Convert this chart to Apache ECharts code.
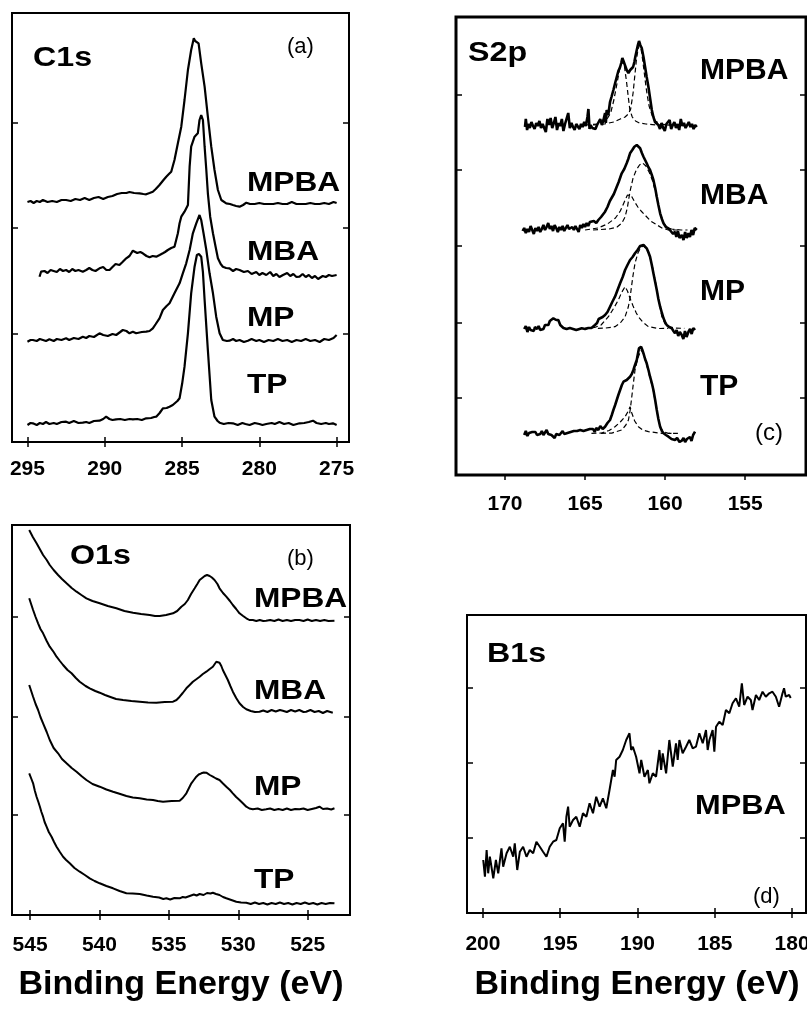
<!DOCTYPE html>
<html>
<head>
<meta charset="utf-8">
<script src="https://cdn.jsdelivr.net/npm/echarts@6/dist/echarts.min.js"></script>
<style>
  html, body { margin: 0; padding: 0; background: #fff; }
  #chart { width: 807px; height: 1011px; }
</style>
</head>
<body>
<div id="chart"></div>
<script>
// tick values (binding energy, eV)
const c1sTicks = [275, 280, 285, 290, 295]
const s2pTicks = [155, 160, 165, 170]
const o1sTicks = [525, 530, 535, 540, 545]
const b1sTicks = [180, 185, 190, 195, 200]
// intensity tick marks (offset counts, arbitrary units)
const c1sYTicks = [108, 214, 319]
const s2pYTicks = [77, 152, 229, 305, 380]
const o1sYTicks = [100, 198, 298]
const b1sYTicks = [75, 150, 225]

// C1s spectra, [eV, intensity]
const c1sMPBA = [[295.0,240],[294.8,241],[294.6,239],[294.4,241],[294.2,240],[294.0,242],[293.7,240],[293.4,241],[293.1,240],[292.8,242],[292.5,242],[292.2,241],[291.9,243],[291.6,242],[291.3,244],[291.0,242],[290.7,244],[290.4,245],[290.1,243],[289.8,245],[289.5,246],[289.2,248],[288.9,249],[288.6,249],[288.4,250],[288.1,249],[287.75,248.7],[287.5,248],[287.32,247.7],[287.1,249],[286.89,250.3],[286.7,253],[286.46,257],[286.2,262],[286.02,265.3],[285.85,268],[285.7,270.3],[285.49,282],[285.27,298.7],[285.05,315.3],[284.84,342],[284.62,372],[284.41,392],[284.24,403.7],[284.15,401],[284.08,402],[283.93,398.7],[283.76,378.7],[283.54,355.3],[283.33,325.3],[283.11,295.3],[282.9,272],[282.68,252],[282.46,242],[282.14,238.7],[281.9,238],[281.71,237],[281.5,236],[281.28,235.3],[281.05,237],[280.84,239.3],[280.6,238],[280.3,238],[280.0,239],[279.7,238],[279.4,238],[279.1,238],[278.8,239],[278.5,238],[278.2,238],[277.9,240],[277.6,238],[277.3,238],[277.0,238],[276.7,239],[276.4,238],[276.1,238],[275.8,239],[275.5,238],[275.2,240],[275.0,239]]
const c1sMBA = [[294.22,165.3],[294.12,170.3],[293.9,171],[293.7,169],[293.5,172],[293.36,171.3],[293.1,170],[292.9,173],[292.7,171],[292.5,172],[292.3,170],[292.1,173],[291.9,171],[291.7,172],[291.42,170.3],[291.2,172],[291.0,174],[290.8,172],[290.6,171],[290.34,173.7],[290.1,175],[289.9,172],[289.69,172],[289.5,175],[289.3,178],[289.05,177],[288.85,180],[288.61,183.7],[288.4,186],[288.18,191.3],[288.07,192],[287.9,189],[287.7,190],[287.54,188.7],[287.3,186],[287.1,184.7],[286.9,186],[286.67,185.3],[286.45,187],[286.24,188.7],[286.1,190],[285.92,192],[285.7,194],[285.49,195.3],[285.27,208.7],[285.16,218.7],[285.05,225.3],[284.84,230.3],[284.62,237],[284.51,275.3],[284.41,295.3],[284.19,305.3],[283.98,308.7],[283.87,322],[283.76,327],[283.65,322],[283.54,295.3],[283.43,272],[283.33,248.7],[283.18,225.3],[283.0,208.7],[282.83,195.3],[282.68,183.7],[282.5,178],[282.36,175.3],[282.15,174],[281.93,173.7],[281.7,171],[281.5,173],[281.28,172],[281.0,170],[280.74,171],[280.5,168],[280.2,170],[280.0,167],[279.8,169],[279.55,167],[279.3,170],[279.1,166],[278.9,168],[278.7,165],[278.47,167],[278.2,169],[278.0,166],[277.8,168],[277.6,165],[277.4,165.3],[277.2,168],[277.0,165],[276.8,167],[276.6,164],[276.4,166],[276.2,163],[276.1,162],[275.9,166],[275.7,165],[275.5,167],[275.3,166],[275.0,167]]
const c1sMP = [[295.0,100.3],[294.8,102],[294.65,102],[294.4,101],[294.2,103],[294.0,102],[293.8,101],[293.58,102.7],[293.3,101],[293.1,103],[292.8,102],[292.5,103.7],[292.3,102],[292.0,104],[291.7,103],[291.42,105.3],[291.2,104],[291.0,106],[290.7,105],[290.34,108.7],[290.1,107],[289.8,106],[289.5,108],[289.26,107],[289.0,110],[288.83,112],[288.6,111],[288.4,108.7],[288.18,110.3],[287.97,108.7],[287.6,110],[287.32,110.3],[287.1,111],[286.89,113.7],[286.7,118],[286.46,123.7],[286.24,132],[286.0,136],[285.81,138.7],[285.49,148.7],[285.16,158.7],[284.95,168.7],[284.73,178.7],[284.51,192],[284.3,208.7],[284.08,218.7],[283.87,227],[283.76,222],[283.61,208.7],[283.43,192],[283.22,168.7],[283.0,148.7],[282.79,125.3],[282.57,108.7],[282.36,102],[282.1,101],[281.93,101.3],[281.7,103],[281.5,101],[281.28,102],[281.0,100],[280.74,101.3],[280.5,103],[280.2,101],[280.0,102],[279.7,100],[279.4,102],[279.1,101],[278.8,103],[278.5,101],[278.2,102],[277.9,100],[277.6,102],[277.3,101],[277.0,103],[276.7,101],[276.4,102],[276.1,100],[275.8,103],[275.5,102],[275.2,104],[275.0,107]]
const c1sTP = [[295.0,17],[294.8,19],[294.65,18.7],[294.4,17],[294.2,19],[294.0,18],[293.8,20],[293.58,18],[293.3,19],[293.1,18],[292.8,20],[292.5,20.3],[292.3,19],[292.0,21],[291.7,19],[291.42,19.3],[291.2,20],[291.0,19],[290.7,21],[290.34,21.3],[290.1,23],[289.91,25.3],[289.7,23],[289.5,22],[289.26,22.7],[289.0,23],[288.7,22],[288.4,23],[288.18,22.7],[287.9,23],[287.6,22],[287.32,23.7],[287.0,24],[286.8,25],[286.67,25.3],[286.45,29],[286.24,33.7],[286.0,34],[285.81,35.3],[285.6,37],[285.49,38.7],[285.3,41],[285.16,43.7],[284.99,58.7],[284.84,75.3],[284.62,108.7],[284.41,148.7],[284.19,175.3],[284.04,187],[283.91,188],[283.76,185.3],[283.65,170],[283.54,142],[283.33,92],[283.11,42],[282.9,25.3],[282.7,21],[282.57,19.3],[282.3,18],[282.0,19],[281.71,18.7],[281.4,17],[281.1,19],[280.9,18],[280.63,17],[280.3,19],[280.0,18],[279.8,17],[279.55,18],[279.2,19],[279.0,18],[278.7,20],[278.4,18],[278.1,19],[277.8,17],[277.4,18.7],[277.1,19],[276.8,20],[276.53,21.3],[276.3,19],[276.0,18],[275.7,19],[275.5,18],[275.24,18.7],[275.0,17]]

// S2p spectra and fitted components
const s2pMPBA = [[168.75,348],[168.7,356],[168.62,345],[168.55,351],[168.45,347],[168.35,353],[168.25,349],[168.15,346],[168.05,352],[167.95,349],[167.85,354],[167.75,347],[167.65,351],[167.55,349],[167.45,343],[167.35,356],[167.25,350],[167.15,357],[167.05,347],[166.95,352],[166.85,358],[166.75,345],[166.65,352],[166.55,349],[166.45,356],[166.35,344],[166.25,351],[166.15,349],[166.05,362],[165.95,347],[165.85,352],[165.75,348],[165.65,345],[165.55,351],[165.45,349],[165.35,346],[165.25,351],[165.15,348],[165.05,353],[164.95,349],[164.85,358],[164.79,366],[164.72,346],[164.65,350],[164.55,347],[164.45,349],[164.35,346],[164.25,350],[164.15,349],[164.05,356],[163.95,350],[163.85,355],[163.75,362],[163.7,352],[163.65,365],[163.55,360],[163.44,373],[163.35,378],[163.23,385],[163.12,392],[163.02,398],[162.92,404],[162.81,408],[162.74,412],[162.67,417],[162.6,414],[162.5,412],[162.4,405],[162.29,402],[162.18,405],[162.08,403],[162.0,408],[161.92,413],[161.85,419],[161.77,425],[161.7,430],[161.63,434],[161.55,430],[161.46,427],[161.35,418],[161.25,408],[161.15,398],[161.04,388],[160.93,376],[160.83,365],[160.73,358],[160.63,353],[160.52,351],[160.42,350],[160.32,346],[160.22,352],[160.12,347],[160.02,344],[159.92,351],[159.82,349],[159.72,355],[159.62,346],[159.52,350],[159.42,353],[159.32,347],[159.22,351],[159.12,345],[159.02,356],[158.92,349],[158.82,352],[158.72,347],[158.62,350],[158.52,353],[158.42,348],[158.32,351],[158.22,346],[158.12,350],[158.02,348]]
const s2pMPBAfitA = [[164.5,350],[163.8,351],[163.2,353],[162.8,356],[162.5,358],[162.3,361],[162.15,366],[162.0,382],[161.9,398],[161.8,414],[161.7,425],[161.6,430],[161.5,426],[161.4,415],[161.3,402],[161.2,389],[161.1,378],[161.0,369],[160.8,359],[160.6,354],[160.3,351],[159.8,350],[159.0,350]]
const s2pMPBAfitB = [[165.0,350],[164.2,351],[163.7,354],[163.4,362],[163.2,375],[163.0,392],[162.85,405],[162.7,413],[162.55,410],[162.4,392],[162.3,378],[162.2,365],[162.05,358],[161.85,354],[161.6,352],[161.2,351],[160.5,350],[159.5,350]]
const s2pMBA = [[168.9,244],[168.8,247],[168.7,242],[168.6,246],[168.5,243],[168.4,249],[168.3,245],[168.2,241],[168.1,247],[168.0,244],[167.9,248],[167.8,243],[167.7,246],[167.6,250],[167.5,245],[167.4,248],[167.3,252],[167.2,246],[167.1,249],[167.0,244],[166.9,250],[166.8,247],[166.7,243],[166.6,248],[166.5,245],[166.4,249],[166.3,244],[166.2,247],[166.1,250],[166.0,246],[165.9,244],[165.8,248],[165.7,245],[165.6,249],[165.5,246],[165.4,243],[165.3,250],[165.2,247],[165.1,251],[165.0,248],[164.9,252],[164.8,249],[164.7,253],[164.58,251.7],[164.45,254],[164.3,252],[164.17,255],[164.0,258],[163.9,257],[163.75,263.3],[163.6,268],[163.45,274],[163.33,275],[163.2,281],[163.02,288.3],[162.9,293],[162.71,301.7],[162.55,306],[162.4,311.7],[162.3,316],[162.19,321.7],[162.05,325],[161.92,328.3],[161.77,330],[161.65,328],[161.56,326.7],[161.45,322],[161.35,318.3],[161.25,315],[161.15,311.7],[161.05,308],[160.94,305],[160.83,300],[160.73,295],[160.62,287],[160.52,278.3],[160.42,270],[160.31,261.7],[160.2,256],[160.1,251.7],[159.95,248],[159.79,246.7],[159.65,244],[159.5,241],[159.38,243.3],[159.3,238],[159.2,244],[159.1,237],[158.96,240],[158.85,235],[158.75,243],[158.65,237],[158.54,241.7],[158.45,238],[158.35,245],[158.25,240],[158.15,247],[158.02,245]]
const s2pMBAfitA = [[164.5,245],[163.5,246],[163.0,248],[162.7,252],[162.5,258],[162.35,268],[162.2,283],[162.0,297],[161.8,305],[161.6,310],[161.4,312],[161.2,309],[161.0,303],[160.8,295],[160.6,283],[160.45,272],[160.3,262],[160.1,252],[159.9,248],[159.6,246],[159.0,245],[158.6,245]]
const s2pMBAfitB = [[165.0,245],[164.2,247],[163.6,251],[163.1,257],[162.8,264],[162.55,273],[162.35,280],[162.25,282],[162.1,279],[161.9,273],[161.7,268],[161.5,264],[161.2,259],[160.9,254],[160.6,251],[160.2,247],[159.8,245],[159.2,245]]
const s2pMP = [[168.8,146],[168.7,149],[168.6,143],[168.5,148],[168.4,145],[168.3,147],[168.2,144],[168.13,148],[168.0,146],[167.9,149],[167.8,145],[167.7,147],[167.6,146],[167.5,150],[167.4,148],[167.29,150],[167.2,154],[167.1,155],[166.98,156.7],[166.9,157],[166.8,155],[166.67,155],[166.55,150],[166.46,148.3],[166.35,147],[166.25,149],[166.15,146],[166.05,148],[165.95,147],[165.85,149],[165.75,146],[165.65,148],[165.55,145],[165.45,147],[165.35,146],[165.21,146.7],[165.1,148],[165.0,146],[164.9,148],[164.8,147],[164.7,149],[164.6,147],[164.5,148],[164.38,150],[164.25,152],[164.15,156],[164.06,156.7],[163.9,158],[163.75,160],[163.6,163],[163.44,168.3],[163.3,173],[163.13,178.3],[162.97,185],[162.81,191.7],[162.65,198],[162.5,205],[162.35,210],[162.19,215],[162.03,218],[161.88,221.7],[161.72,225],[161.56,229],[161.45,230],[161.35,230],[161.25,228],[161.15,226.7],[161.05,223],[160.94,218.3],[160.83,210],[160.73,201.7],[160.62,193],[160.52,185],[160.42,176],[160.31,168.3],[160.2,162],[160.1,156.7],[160.0,153],[159.9,150],[159.75,148],[159.58,146.7],[159.48,144],[159.38,141.7],[159.28,145],[159.18,139],[159.08,143],[158.96,140],[158.86,136],[158.76,144],[158.66,138],[158.54,143.3],[158.44,146],[158.34,141],[158.24,147],[158.13,145]]
const s2pMPfitA = [[164.2,146.7],[163.75,146.9],[163.13,148.3],[162.8,152],[162.5,158.3],[162.3,168],[162.19,176.7],[162.1,188.3],[162.0,200],[161.88,211.7],[161.7,222],[161.5,228],[161.35,229],[161.2,227],[161.0,221],[160.8,209],[160.6,193],[160.4,175],[160.2,158.3],[160.0,151],[159.79,148.3],[159.38,146.9],[158.8,146.7]]
const s2pMPfitB = [[165.0,146.7],[164.4,147.5],[164.0,150],[163.54,158.3],[163.2,167],[162.92,175],[162.7,183],[162.5,188.3],[162.35,184],[162.19,176.7],[162.0,169],[161.8,162],[161.67,158.3],[161.4,153],[161.04,148.3],[160.42,146.5],[159.8,146.7]]
const s2pTP = [[168.8,40],[168.7,44],[168.6,39],[168.5,42],[168.4,40],[168.3,43],[168.2,41],[168.1,43],[168.0,40],[167.9,42],[167.8,41],[167.7,44],[167.6,40],[167.5,42],[167.4,45],[167.3,41],[167.2,43],[167.1,40],[167.0,42],[166.9,37],[166.8,41],[166.7,43],[166.6,40],[166.5,42],[166.4,44],[166.3,41],[166.2,43],[166.1,42],[166.0,40],[165.9,43],[165.8,41],[165.7,44],[165.6,42],[165.5,44],[165.4,42],[165.3,45],[165.2,43],[165.1,44],[165.0,42],[164.9,45],[164.8,43],[164.7,46],[164.6,44],[164.5,46],[164.4,43],[164.3,47],[164.17,45],[164.05,49],[163.9,46],[163.75,48.3],[163.6,52],[163.44,55],[163.33,60],[163.23,65],[163.12,70],[163.02,75],[162.92,80],[162.81,85],[162.7,90],[162.6,93.3],[162.5,94],[162.4,95],[162.3,96],[162.19,98.3],[162.08,101],[161.98,105],[161.88,110],[161.77,115],[161.7,121],[161.63,126.7],[161.5,128.3],[161.42,125],[161.35,121.7],[161.25,116],[161.15,111.7],[161.04,105],[160.94,98.3],[160.83,92],[160.73,85],[160.62,75],[160.52,65],[160.42,56],[160.31,48.3],[160.2,44],[160.1,41.7],[159.95,40],[159.79,38.3],[159.6,36],[159.5,38],[159.38,35],[159.25,37],[159.1,33],[158.96,34.3],[158.85,37],[158.75,33],[158.64,36],[158.54,35.7],[158.45,38],[158.35,34],[158.25,40],[158.13,43.3]]
const s2pTPfitA = [[164.0,41.7],[163.33,41.9],[162.71,45],[162.45,50],[162.29,55],[162.18,65],[162.08,78.3],[161.98,92],[161.88,105],[161.7,117],[161.5,125],[161.35,121],[161.15,110],[160.94,97],[160.73,84],[160.52,64],[160.31,48],[160.1,43],[159.79,41.7],[159.2,41.7]]
const s2pTPfitB = [[164.6,41.7],[163.96,42],[163.5,44.5],[163.13,48.3],[162.8,53],[162.5,58.3],[162.3,64],[162.19,68.3],[162.08,62],[161.9,54],[161.67,48.3],[161.4,45],[161.04,43.3],[160.2,41.7],[159.6,41.7]]

// O1s spectra
const o1sMPBA = [[545.06,385],[544.8,378],[544.53,371.7],[544.3,366],[544.06,360],[543.8,355],[543.58,350],[543.3,345],[542.98,340],[542.7,336],[542.37,331.7],[542.0,327],[541.65,323.3],[541.3,320],[540.94,316.7],[540.5,314],[539.98,311.7],[539.4,309],[538.78,306.7],[538.2,304],[537.58,302.3],[537.0,301],[536.38,300],[536.0,299],[535.66,299],[535.2,300],[534.7,301.7],[534.4,304],[534.1,308.3],[533.85,311],[533.63,315],[533.4,321],[533.14,326.7],[532.95,331],[532.78,335],[532.6,337],[532.42,339],[532.25,340],[532.06,339],[531.9,337.5],[531.71,335],[531.5,331],[531.35,326.7],[531.1,322],[530.86,318.3],[530.6,314],[530.39,310],[530.15,306],[529.91,301.7],[529.65,299],[529.42,296.7],[529.2,295],[528.95,295],[528.7,294],[528.45,295],[528.2,294],[527.99,294.3],[527.7,295],[527.4,294],[527.1,295.5],[526.8,294],[526.5,295],[526.2,294],[525.9,295],[525.59,295],[525.3,294],[525.0,295.5],[524.7,294],[524.4,295],[524.1,294],[523.8,295],[523.5,294],[523.07,294.3]]
const o1sMBA = [[545.06,316.7],[544.78,305],[544.6,298],[544.42,291.7],[544.25,286],[544.06,281.7],[543.8,274],[543.58,268.3],[543.3,263],[543.09,258.3],[542.85,254],[542.62,250],[542.3,245],[542.01,241.7],[541.7,237],[541.42,233.3],[541.0,229],[540.7,226.7],[540.3,224],[539.98,222.3],[539.6,220],[539.26,218.3],[538.8,216],[538.3,215],[537.7,214],[537.1,213.3],[536.5,212.5],[535.9,212.3],[535.3,213],[534.7,213.3],[534.45,215],[534.22,218.3],[534.0,222],[533.74,226.7],[533.5,230],[533.27,233.3],[533.0,236],[532.78,238.3],[532.55,241],[532.3,243.3],[532.05,246],[531.83,248.3],[531.7,250],[531.58,253.3],[531.45,253],[531.35,252.3],[531.22,249],[531.11,245],[530.93,240],[530.75,235],[530.57,229],[530.39,223.3],[530.15,217],[529.91,211.7],[529.65,208],[529.42,205.7],[529.1,204],[528.8,203],[528.47,203.3],[528.2,204.5],[527.9,203],[527.6,205],[527.3,203.5],[527.0,205],[526.79,204.3],[526.5,203],[526.2,205],[525.9,203.5],[525.6,205],[525.3,203],[525.11,203.3],[524.8,205],[524.5,203],[524.2,204],[523.9,202],[523.6,204],[523.19,202.3]]
const o1sMP = [[545.06,230],[544.78,218.3],[544.6,211],[544.42,205],[544.25,198],[544.06,191.7],[543.8,183],[543.58,175],[543.3,167],[542.98,161.7],[542.7,156],[542.37,151.7],[542.0,147],[541.65,143.3],[541.3,139],[540.94,135],[540.5,131],[539.98,128.3],[539.5,125.5],[539.02,123.3],[538.5,121],[538.06,119],[537.6,117.5],[537.1,116.7],[536.6,115.5],[536.14,115],[535.8,114],[535.42,113.3],[534.8,114],[534.22,114.3],[534.0,117],[533.74,121.7],[533.55,127],[533.38,131.7],[533.2,135],[533.02,138.3],[532.85,140.5],[532.66,141.7],[532.48,142.5],[532.3,142.3],[532.05,140],[531.83,138.3],[531.6,136.5],[531.35,135],[531.1,131.5],[530.86,128.3],[530.6,125],[530.39,121.7],[530.15,118],[529.91,115],[529.65,111.5],[529.42,108.3],[529.2,106.5],[528.95,105.7],[528.6,106.5],[528.3,105],[527.99,105.7],[527.7,106.5],[527.4,105],[527.1,106],[526.8,105],[526.5,106.5],[526.2,105],[525.9,106],[525.59,105.7],[525.3,106.5],[525.0,105],[524.7,106],[524.4,107],[524.15,108.3],[523.9,106],[523.6,106.5],[523.3,105.5],[523.07,106.7]]
const o1sTP = [[545.06,141.7],[544.9,136],[544.78,131.7],[544.65,124],[544.53,118.3],[544.4,113],[544.29,108.3],[544.18,103],[544.06,98.3],[543.95,93],[543.81,88.3],[543.65,83],[543.45,78.3],[543.27,73],[543.09,68.3],[542.85,63],[542.62,58.3],[542.4,55],[542.14,51.7],[541.8,47],[541.42,43.3],[541.05,40],[540.7,36.7],[540.35,34],[539.98,31.7],[539.5,29],[539.02,26.7],[538.55,24],[538.06,21.7],[537.6,21.5],[537.1,21],[536.6,19.5],[536.14,18.3],[535.7,17.5],[535.4,16],[535.18,16.7],[534.9,15.5],[534.6,17],[534.22,16.7],[534.0,18],[533.8,17.5],[533.5,19],[533.2,20.5],[533.0,19.5],[532.78,21],[532.5,20],[532.25,22],[532.0,21.5],[531.83,22.3],[531.6,21],[531.35,20],[531.1,18],[530.86,16.7],[530.5,15],[530.14,13.3],[529.8,12.5],[529.42,12.3],[529.1,11],[528.8,12.5],[528.5,11],[528.2,12],[527.9,10.5],[527.6,12],[527.3,11],[527.0,12.5],[526.7,11],[526.4,12],[526.1,10.5],[525.8,12],[525.5,11],[525.2,12.5],[524.9,11],[524.6,12],[524.3,10.5],[524.0,12],[523.7,11],[523.4,12],[523.07,11.7]]

// B1s spectrum
const b1sMPBA = [[199.98,53],[199.87,36.3],[199.76,63],[199.66,39.7],[199.55,56.3],[199.33,34.7],[199.16,53],[199.01,39.7],[198.8,64.7],[198.69,46.3],[198.47,59.7],[198.26,66.3],[198.04,56.3],[197.94,69.7],[197.78,43],[197.61,61.3],[197.4,66.3],[197.18,56.3],[196.97,63],[196.75,59.7],[196.54,71.3],[196.32,66.3],[196.11,61.3],[195.89,56.3],[195.68,66.3],[195.46,71.3],[195.25,73],[195.03,84.7],[194.82,89.7],[194.71,71.3],[194.6,96.3],[194.49,106.3],[194.39,86.3],[194.17,93],[193.96,96.3],[193.74,86.3],[193.53,99.7],[193.31,96.3],[193.1,109.7],[192.88,99.7],[192.67,116.3],[192.45,106.3],[192.24,114.7],[192.02,104.7],[191.81,123],[191.59,143],[191.48,136.3],[191.38,153],[191.16,156.3],[190.95,163],[190.73,173],[190.52,179.7],[190.41,163],[190.3,166.3],[190.09,156.3],[189.87,139.7],[189.76,153],[189.55,136.3],[189.33,143],[189.23,129.7],[189.01,139.7],[188.8,136.3],[188.58,163],[188.47,143],[188.37,159.7],[188.15,139.7],[187.94,173],[187.72,146.3],[187.51,169.7],[187.4,153],[187.29,173],[187.08,159.7],[186.86,166.3],[186.65,173],[186.43,164.7],[186.22,166.3],[186.0,179.7],[185.78,169.7],[185.57,183],[185.46,163],[185.35,173],[185.14,183],[185.03,161.3],[184.92,186.3],[184.71,191.3],[184.49,188],[184.28,203],[184.06,199.7],[183.85,209.7],[183.63,214.7],[183.42,206.3],[183.25,229.7],[183.1,208],[182.88,216.3],[182.67,213],[182.56,203],[182.34,218],[182.13,213],[181.91,221.3],[181.7,216.3],[181.48,219.7],[181.27,221.3],[181.05,216.3],[180.84,206.3],[180.62,219.7],[180.52,224.7],[180.41,216.3],[180.19,218],[180.09,215]]

const FONT = "'Liberation Sans', Arial, Helvetica, sans-serif"

// panel layout: grid box in px, energy range, ticks
const panels = [
  { left: 12, top: 13, width: 337, height: 429, xMin: 274.2, xMax: 296.0, xTicks: c1sTicks, yTicks: c1sYTicks, margin: 17, border: 2, bottomTicks: true },
  { left: 456, top: 17, width: 350, height: 458, xMin: 151.2, xMax: 173.06, xTicks: s2pTicks, yTicks: s2pYTicks, margin: 19, border: 3, bottomTicks: false },
  { left: 12, top: 525, width: 338, height: 390, xMin: 521.95, xMax: 546.3, xTicks: o1sTicks, yTicks: o1sYTicks, margin: 20, border: 2, bottomTicks: true },
  { left: 467, top: 615, width: 339, height: 298, xMin: 179.1, xMax: 201.03, xTicks: b1sTicks, yTicks: b1sYTicks, margin: 21, border: 2, bottomTicks: true }
]

const tickStyle = { color: '#000', width: 1.5 }

// outerBoundsMode 'none' keeps v6 from shrinking a grid whose labels touch the edge
const grid = panels.map(p => ({
  left: p.left, top: p.top, width: p.width, height: p.height,
  containLabel: false, outerBoundsMode: 'none',
  show: true, borderColor: '#000', borderWidth: p.border, backgroundColor: 'transparent'
}))

const xAxis = []
const yAxis = []
panels.forEach((p, i) => {
  xAxis.push({
    gridIndex: i, type: 'value', position: 'bottom', inverse: true, min: p.xMin, max: p.xMax,
    axisLine: { show: false },
    axisTick: { show: p.bottomTicks, inside: true, length: 5, customValues: p.xTicks, lineStyle: tickStyle },
    axisLabel: { customValues: p.xTicks, color: '#000', fontWeight: 'bold', fontSize: 21, fontFamily: FONT, margin: p.margin, hideOverlap: false },
    splitLine: { show: false }
  })
  xAxis.push({
    gridIndex: i, type: 'value', position: 'top', inverse: true, min: p.xMin, max: p.xMax,
    axisLine: { show: false },
    axisTick: { show: true, inside: true, length: 5, customValues: p.xTicks, lineStyle: tickStyle },
    axisLabel: { show: false },
    splitLine: { show: false }
  })
  ;['left', 'right'].forEach(pos => {
    yAxis.push({
      gridIndex: i, type: 'value', position: pos, min: 0, max: p.height,
      axisLine: { show: false },
      axisTick: { show: true, inside: true, length: 6, customValues: p.yTicks, lineStyle: tickStyle },
      axisLabel: { show: false },
      splitLine: { show: false }
    })
  })
})

function spectrum(data, panel, width, dashed) {
  return {
    type: 'line', data: data, xAxisIndex: panel * 2, yAxisIndex: panel * 2,
    symbol: 'none', silent: true, animation: false,
    lineStyle: { color: '#000', width: width, type: dashed ? [5, 3] : 'solid' }
  }
}

const series = [
  spectrum(c1sMPBA, 0, 2.2), spectrum(c1sMBA, 0, 2.2), spectrum(c1sMP, 0, 2.2), spectrum(c1sTP, 0, 2.2),
  spectrum(s2pMPBAfitA, 1, 1.2, true), spectrum(s2pMPBAfitB, 1, 1.2, true),
  spectrum(s2pMBAfitA, 1, 1.2, true), spectrum(s2pMBAfitB, 1, 1.2, true),
  spectrum(s2pMPfitA, 1, 1.2, true), spectrum(s2pMPfitB, 1, 1.2, true),
  spectrum(s2pTPfitA, 1, 1.2, true), spectrum(s2pTPfitB, 1, 1.2, true),
  spectrum(s2pMPBA, 1, 2.6), spectrum(s2pMBA, 1, 2.6), spectrum(s2pMP, 1, 2.6), spectrum(s2pTP, 1, 2.6),
  spectrum(o1sMPBA, 2, 2), spectrum(o1sMBA, 2, 2), spectrum(o1sMP, 2, 2), spectrum(o1sTP, 2, 2),
  spectrum(b1sMPBA, 3, 2)
]

// text annotations
function label(text, x, y, size, bold, sx) {
  return {
    type: 'text', x: x, y: y, scaleX: sx || 1, silent: true,
    style: {
      text: text, fill: '#000', fontSize: size, fontWeight: bold ? 'bold' : 'normal', fontFamily: FONT,
      textAlign: 'left', align: 'left', textVerticalAlign: 'middle', verticalAlign: 'middle'
    }
  }
}

const graphic = [
  label('C1s', 33, 58, 28, true, 1.15),
  label('(a)', 287, 47, 22, false),
  label('MPBA', 247, 183, 28, true, 1.13),
  label('MBA', 247, 252, 28, true, 1.13),
  label('MP', 247, 318, 28, true, 1.13),
  label('TP', 247, 385, 28, true, 1.13),

  label('S2p', 468, 53, 28, true, 1.15),
  label('MPBA', 700, 71, 30, true),
  label('MBA', 700, 196, 30, true),
  label('MP', 700, 292, 30, true),
  label('TP', 700, 387, 30, true),
  label('(c)', 755, 433, 24, false),

  label('O1s', 70, 556, 28, true, 1.15),
  label('(b)', 287, 559, 22, false),
  label('MPBA', 254, 599, 28, true, 1.13),
  label('MBA', 254, 691, 28, true, 1.13),
  label('MP', 254, 787, 28, true, 1.13),
  label('TP', 254, 880, 28, true, 1.13),

  label('B1s', 487, 654, 28, true, 1.15),
  label('MPBA', 695, 806, 28, true, 1.1),
  label('(d)', 753, 897, 22, false),

  {
    type: 'text', x: 181, y: 985, silent: true,
    style: { text: 'Binding Energy (eV)', fill: '#000', fontSize: 34, fontWeight: 'bold', fontFamily: FONT, textAlign: 'center', align: 'center', textVerticalAlign: 'middle', verticalAlign: 'middle' }
  },
  {
    type: 'text', x: 637, y: 985, silent: true,
    style: { text: 'Binding Energy (eV)', fill: '#000', fontSize: 34, fontWeight: 'bold', fontFamily: FONT, textAlign: 'center', align: 'center', textVerticalAlign: 'middle', verticalAlign: 'middle' }
  }
]

const chart = echarts.init(document.getElementById('chart'), null, { renderer: 'canvas' })
chart.setOption({
  animation: false,
  backgroundColor: '#fff',
  grid: grid,
  xAxis: xAxis,
  yAxis: yAxis,
  series: series,
  graphic: graphic
})
</script>
</body>
</html>
